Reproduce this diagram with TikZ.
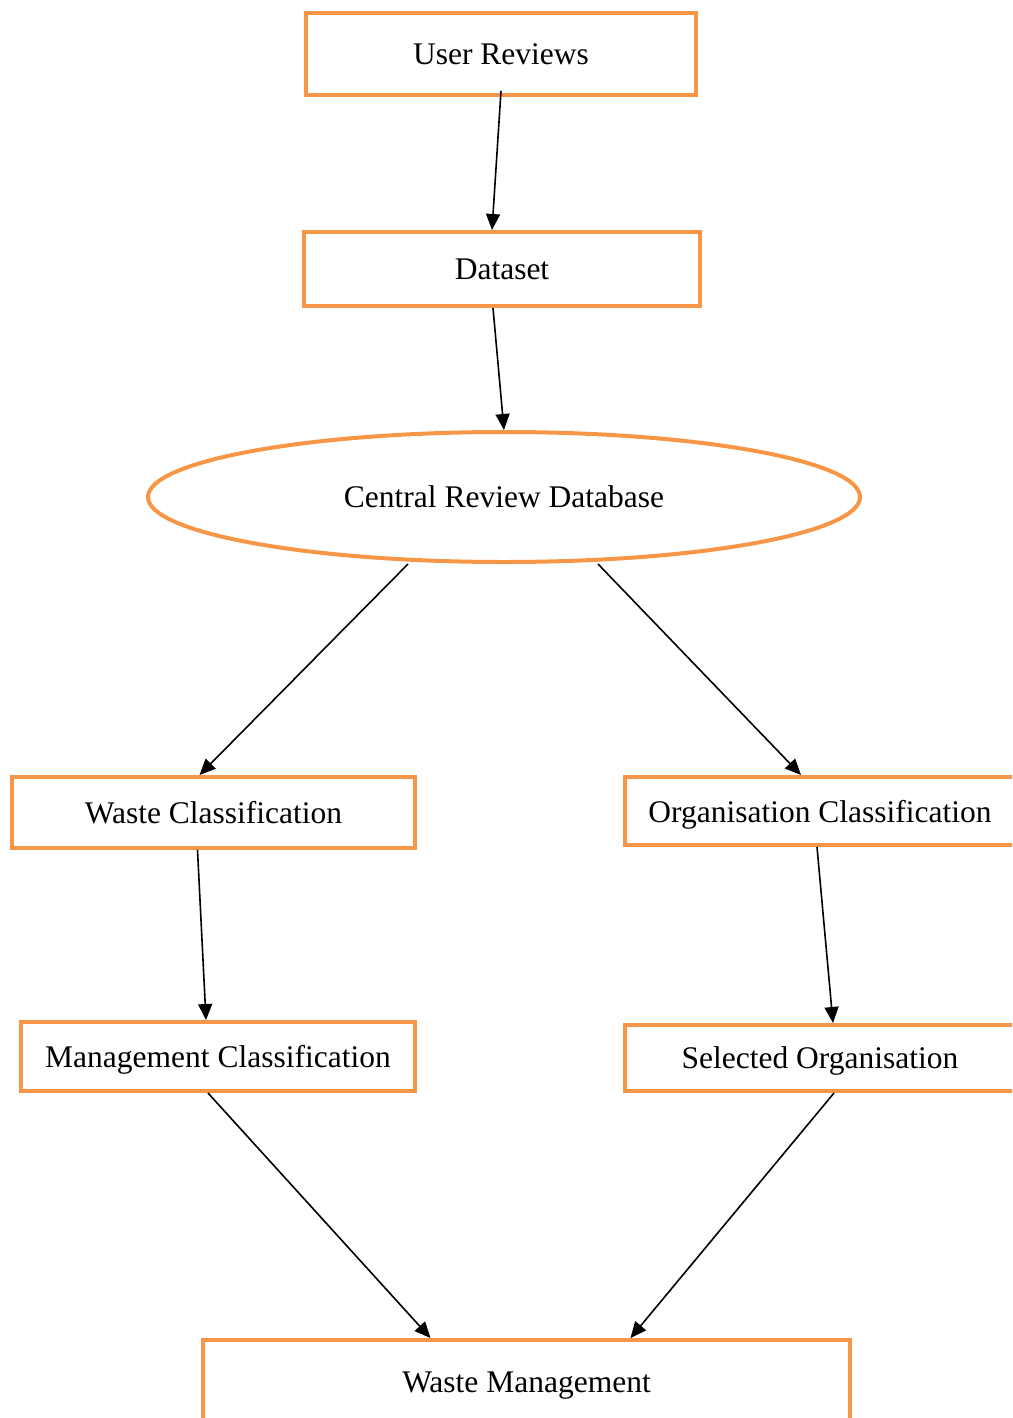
\documentclass[tikz,border=0pt]{standalone}
\usepackage{fontspec}
\setmainfont{Liberation Serif}
\usepackage{tikz}
\usetikzlibrary{arrows.meta}
\usetikzlibrary{shapes.geometric}
\definecolor{boxorange}{HTML}{F79646}

\begin{document}
\begin{tikzpicture}[x=0.5pt, y=-0.5pt,
    every node/.style={font=\fontsize{15.75}{19}\selectfont, text depth=0pt},
    stagebox/.style={draw=boxorange, line width=2pt, rectangle, inner sep=0pt},
    storebox/.style={draw=boxorange, line width=2pt, ellipse, inner sep=0pt},
    flow/.style={-{Triangle[length=8pt, width=7pt]}, line width=0.8pt}]
\useasboundingbox (0, 0) rectangle (1012, 1418);
\clip (0, 0) rectangle (1012, 1418);
\node[stagebox, minimum width=195pt, minimum height=41pt]   (reviews)  at (501,   54)   {User Reviews};
\node[stagebox, minimum width=198pt, minimum height=37pt]   (dataset)  at (502,  269)   {Dataset};
\node[storebox, minimum width=356pt, minimum height=65pt]   (central)  at (504,  497)   {Central Review Database};
\node[stagebox, minimum width=201.5pt, minimum height=35.5pt] (wasteclf) at (213.5, 812.5) {Waste Classification};
\node[stagebox, minimum width=195pt, minimum height=34pt]   (orgclf)   at (820,  811)   {Organisation Classification};
\node[stagebox, minimum width=197pt, minimum height=34.5pt] (mgmtclf)  at (218, 1056.5) {Management Classification};
\node[stagebox, minimum width=195pt, minimum height=33pt]   (selorg)   at (820, 1058)   {Selected Organisation};
\node[stagebox, minimum width=323.5pt, minimum height=42pt] (wastemgmt) at (526.5, 1382) {Waste Management};

\draw[flow] ([yshift=3pt]reviews.south) -- ([xshift=-5pt]dataset.north);
\draw[flow] ([xshift=-4.5pt]dataset.south) -- (central.north);
\draw[flow] ([xshift=-48pt]central.south) -- ([xshift=-7pt]wasteclf.north);
\draw[flow] ([xshift=47pt]central.south) -- ([xshift=-9.5pt]orgclf.north);
\draw[flow] ([xshift=-8pt]wasteclf.south) -- ([xshift=-6pt]mgmtclf.north);
\draw[flow] ([xshift=-1.5pt]orgclf.south) -- ([xshift=6.5pt]selorg.north);
\draw[flow] ([xshift=-5pt]mgmtclf.south) -- ([xshift=-48pt]wastemgmt.north);
\draw[flow] ([xshift=7pt]selorg.south) -- ([xshift=52pt]wastemgmt.north);
\end{tikzpicture}
\end{document}
